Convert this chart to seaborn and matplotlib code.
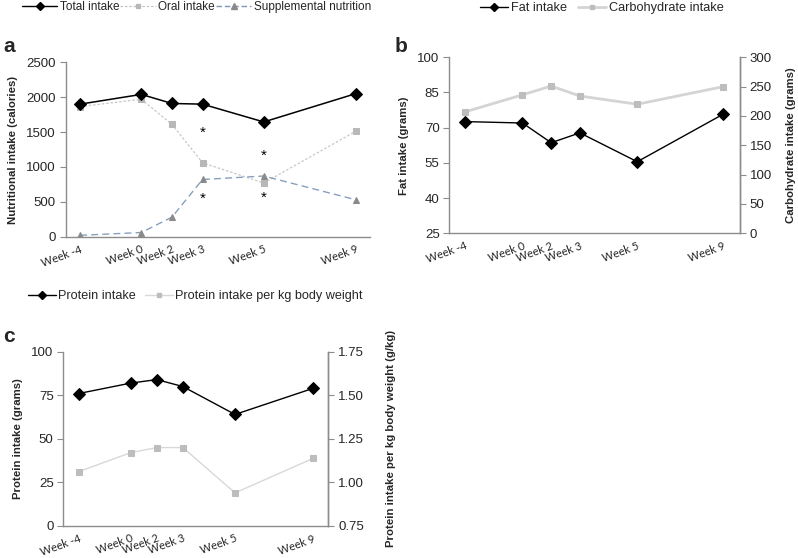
import matplotlib
matplotlib.use("Agg")
import matplotlib.pyplot as plt
import seaborn as sns
import pandas as pd
from matplotlib.lines import Line2D

sns.set_theme(style="white")
plt.rcParams['font.family'] = ['Liberation Sans', 'DejaVu Sans']

# ---------------- data ----------------
weeks = ["Week -4", "Week 0", "Week 2", "Week 3", "Week 5", "Week 9"]
week_pos = [0, 2, 3, 4, 6, 9]

total_intake = [1900, 2040, 1910, 1900, 1645, 2050]
oral_intake = [1865, 1970, 1610, 1060, 770, 1510]
supplemental = [20, 60, 280, 820, 870, 530]
star_x = [4, 4, 6, 6]
star_y = [1490, 550, 1155, 560]

fat_intake = [72.6, 72.0, 63.6, 67.8, 55.5, 75.8]
carb_intake = [207, 236, 251, 234, 220, 250]

protein_intake = [76, 82, 84, 80, 64, 79]
protein_per_kg = [1.062, 1.171, 1.20, 1.20, 0.94, 1.138]

W, H = 798, 558
fig = plt.figure(figsize=(W / 100, H / 100), dpi=100)

def rect(l, r, t, b):
    return [l / W, 1 - b / H, (r - l) / W, (b - t) / H]

spine_c = "#8c8c8c"
tick_fs = 9.5
lab_fs = 8.2

def style_ax(ax, right=False):
    ax.spines["top"].set_visible(False)
    ax.spines["right"].set_visible(right)
    for s in ["left", "bottom", "right"]:
        ax.spines[s].set_color(spine_c)
        ax.spines[s].set_linewidth(1.0)
    ax.tick_params(axis="y", which="both", direction="out", length=4, width=0.8,
                   color=spine_c, labelsize=tick_fs, pad=3, left=not right, right=right,
                   labelleft=not right, labelright=right)
    ax.tick_params(axis="x", length=0, labelsize=8, pad=5)
    ax.grid(False)

def set_xticks(ax):
    ax.set_xticks(week_pos)
    ax.set_xticklabels(weeks, rotation=20, ha="right", rotation_mode="anchor",
                       family=["Lato", "DejaVu Sans"], fontsize=8)
    ax.set_xlabel("")

# ---------------- panel a ----------------
axa = fig.add_axes(rect(65.7, 370, 62.3, 236.7))
dfa = pd.DataFrame({"x": week_pos, "total": total_intake, "oral": oral_intake, "supp": supplemental})
sns.lineplot(data=dfa, x="x", y="oral", ax=axa, color="#c8c8c8", lw=0.9, linestyle=(0, (2, 1.5)),
             marker="s", markersize=4.5, markerfacecolor="#b8b8b8", markeredgecolor="#b8b8b8")
sns.lineplot(data=dfa, x="x", y="supp", ax=axa, color="#86a0be", lw=1.0, linestyle=(0, (5, 3)),
             marker="^", markersize=4.5, markerfacecolor="#8a8a8a", markeredgecolor="#8a8a8a")
sns.lineplot(data=dfa, x="x", y="total", ax=axa, color="black", lw=1.1,
             marker="D", markersize=6.5, markerfacecolor="black", markeredgecolor="black")
for sx, sy in zip(star_x, star_y):
    axa.text(sx, sy, "*", ha="center", va="center", fontsize=11, color="black")
axa.set_ylim(0, 2500)
axa.set_yticks([0, 500, 1000, 1500, 2000, 2500])
axa.set_xlim(-0.47, 9.47)
style_ax(axa)
set_xticks(axa)
axa.set_ylabel("Nutritional intake (calories)", fontsize=lab_fs, fontweight="bold", labelpad=6)

# ---------------- panel b ----------------
axb = fig.add_axes(rect(449.3, 740, 57.3, 233.3))
axb2 = axb.twinx()
dfb = pd.DataFrame({"x": week_pos, "fat": fat_intake, "carb": carb_intake})
sns.lineplot(data=dfb, x="x", y="fat", ax=axb, color="black", lw=1.0,
             marker="D", markersize=6, markerfacecolor="black", markeredgecolor="black")
sns.lineplot(data=dfb, x="x", y="carb", ax=axb2, color="#d4d4d4", lw=2.0,
             marker="s", markersize=5, markerfacecolor="#bdbdbd", markeredgecolor="#bdbdbd")
axb.set_ylim(25, 100)
axb.set_yticks([25, 40, 55, 70, 85, 100])
axb2.set_ylim(0, 300)
axb2.set_yticks([0, 50, 100, 150, 200, 250, 300])
axb.set_xlim(-0.55, 9.58)
style_ax(axb)
axb.spines["right"].set_visible(True)
axb.spines["right"].set_color(spine_c)
style_ax(axb2, right=True)
axb2.spines["left"].set_visible(False)
axb2.spines["bottom"].set_visible(False)
set_xticks(axb)
axb.set_ylabel("Fat intake (grams)", fontsize=lab_fs, fontweight="bold", labelpad=6)
axb2.set_ylabel("Carbohydrate intake (grams)", fontsize=lab_fs, fontweight="bold", labelpad=10)

# ---------------- panel c ----------------
axc = fig.add_axes(rect(63.3, 328.3, 351.7, 526))
axc2 = axc.twinx()
dfc = pd.DataFrame({"x": week_pos, "prot": protein_intake, "pkg": protein_per_kg})
sns.lineplot(data=dfc, x="x", y="prot", ax=axc, color="black", lw=1.0,
             marker="D", markersize=6, markerfacecolor="black", markeredgecolor="black")
sns.lineplot(data=dfc, x="x", y="pkg", ax=axc2, color="#d8d8d8", lw=1.0,
             marker="s", markersize=5, markerfacecolor="#bdbdbd", markeredgecolor="#bdbdbd")
axc.set_ylim(0, 100)
axc.set_yticks([0, 25, 50, 75, 100])
axc2.set_ylim(0.75, 1.75)
axc2.set_yticks([0.75, 1.0, 1.25, 1.5, 1.75])
axc2.set_yticklabels(["0.75", "1.00", "1.25", "1.50", "1.75"])
axc.set_xlim(-0.59, 9.58)
style_ax(axc)
axc.spines["right"].set_visible(True)
axc.spines["right"].set_color(spine_c)
style_ax(axc2, right=True)
axc2.spines["left"].set_visible(False)
axc2.spines["bottom"].set_visible(False)
set_xticks(axc)
axc.set_ylabel("Protein intake (grams)", fontsize=lab_fs, fontweight="bold", labelpad=6)
axc2.set_ylabel("Protein intake per kg body weight (g/kg)", fontsize=lab_fs, fontweight="bold", labelpad=16)

# ---------------- legends ----------------
leg_kw = dict(frameon=False, fontsize=8.5, handlelength=3.0, handletextpad=0.2,
              columnspacing=0.1, borderaxespad=0, borderpad=0, loc="upper left")
ha = [Line2D([], [], color="black", lw=1.0, marker="D", markersize=4.5),
      Line2D([], [], color="#c4c4c4", lw=0.9, linestyle=(0, (2, 1.5)), marker="s", markersize=3.5,
             markerfacecolor="#b8b8b8", markeredgecolor="#b8b8b8"),
      Line2D([], [], color="#7d98b8", lw=1.0, linestyle=(0, (4, 2)), marker="^", markersize=4,
             markerfacecolor="#8a8a8a", markeredgecolor="#8a8a8a")]
fig.legend(ha, ["Total intake", "Oral intake", "Supplemental nutrition"], ncol=3,
           bbox_to_anchor=(22 / W, 1 - 1 / H), **leg_kw)
hb = [Line2D([], [], color="black", lw=1.0, marker="D", markersize=4.5),
      Line2D([], [], color="#d4d4d4", lw=2.0, marker="s", markersize=3.5,
             markerfacecolor="#bdbdbd", markeredgecolor="#bdbdbd")]
fig.legend(hb, ["Fat intake", "Carbohydrate intake"], ncol=2,
           bbox_to_anchor=(480 / W, 1 - 2 / H),
           **{**leg_kw, "fontsize": 9.2, "handlelength": 2.2, "columnspacing": 0.9})
hc = [Line2D([], [], color="black", lw=1.0, marker="D", markersize=4.5),
      Line2D([], [], color="#d8d8d8", lw=1.0, marker="s", markersize=3.5,
             markerfacecolor="#bdbdbd", markeredgecolor="#bdbdbd")]
fig.legend(hc, ["Protein intake", "Protein intake per kg body weight"], ncol=2,
           bbox_to_anchor=(28 / W, 1 - 290 / H),
           **{**leg_kw, "fontsize": 9.1, "handlelength": 2.2, "columnspacing": 0.7})

# ---------------- panel letters ----------------
fig.text(3 / W, 1 - 46 / H, "a", fontsize=15, fontweight="bold", va="center")
fig.text(395 / W, 1 - 46 / H, "b", fontsize=15, fontweight="bold", va="center")
fig.text(3 / W, 1 - 337 / H, "c", fontsize=15, fontweight="bold", va="center")

fig.savefig("out.png", dpi=100)
